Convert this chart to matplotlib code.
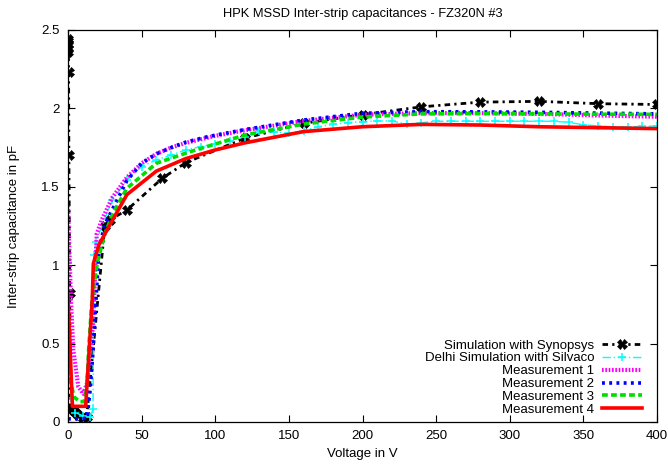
import matplotlib
matplotlib.use("Agg")
import matplotlib.pyplot as plt

plt.rcParams['font.family'] = ['Liberation Sans', 'DejaVu Sans']

title = "HPK MSSD Inter-strip capacitances - FZ320N #3"
xlabel = "Voltage in V"
ylabel = "Inter-strip capacitance in pF"
xticks = [0, 50, 100, 150, 200, 250, 300, 350, 400]
yticks = [0, 0.5, 1, 1.5, 2, 2.5]

# Simulation with Synopsys
syn_v = [0, 0.05, 0.1, 0.2, 0.3, 0.4, 0.6, 1.2, 1.6, 3.6, 4.8, 7, 10.4, 12.7,
         25, 28.5, 40, 64, 80, 120, 160, 200, 240, 280, 320, 360, 400]
syn_c = [2.44, 2.43, 2.41, 2.38, 2.36, 2.23, 1.70, 0.82, 0.09, 0.076, 0.066, 0.045, 0.024, 0.034,
         1.25, 1.29, 1.352, 1.554, 1.654, 1.81, 1.905, 1.96, 2.01, 2.04, 2.045, 2.03, 2.025]

# Delhi Simulation with Silvaco
del_v = [0, 2, 5, 10, 15, 17, 17.5, 19, 30, 40, 50, 60, 70, 80, 90, 100, 110, 120, 130, 140,
         150, 160, 170, 180, 190, 200, 210, 220, 230, 240, 250, 260, 270, 280, 290, 300,
         310, 320, 330, 340, 350, 360, 370, 380, 390, 400]
del_c = [1.02, 0.15, 0.06, 0.04, 0.03, 0.08, 1.065, 1.15, 1.415, 1.543, 1.628, 1.671, 1.703, 1.735,
         1.756, 1.775, 1.79, 1.82, 1.855, 1.85, 1.84, 1.858, 1.883, 1.898, 1.909, 1.915, 1.92,
         1.92, 1.90, 1.909, 1.918, 1.918, 1.918, 1.918, 1.918, 1.918, 1.918, 1.918, 1.918,
         1.911, 1.896, 1.888, 1.883, 1.883, 1.885, 1.888]

# Measurement 1
m1_v = [0, 2, 3.6, 7, 10.4, 13, 15, 17, 19.5, 23, 30, 40, 50, 60, 70, 80, 100, 120, 160,
        200, 240, 280, 320, 360, 400]
m1_c = [1.38, 0.78, 0.46, 0.225, 0.18, 0.25, 0.45, 0.61, 1.20, 1.29, 1.43, 1.56, 1.65, 1.71,
        1.75, 1.78, 1.825, 1.86, 1.92, 1.96, 1.97, 1.97, 1.965, 1.955, 1.947]

# Measurement 2
m2_v = [0, 5, 10, 13, 15, 17, 21, 25, 32, 40, 50, 60, 70, 80, 95, 120, 160, 200, 240,
        280, 320, 360, 400]
m2_c = [0.02, 0.02, 0.02, 0.03, 0.2, 0.45, 1.10, 1.26, 1.39, 1.54, 1.65, 1.71, 1.75, 1.785,
        1.82, 1.865, 1.926, 1.969, 1.979, 1.978, 1.975, 1.97, 1.965]

# Measurement 3
m3_v = [0, 1, 4, 8, 11, 13, 14, 16.3, 20, 25, 31, 40, 60, 83, 120, 160, 200, 240, 280,
        320, 360, 400]
m3_c = [0.45, 0.3, 0.16, 0.13, 0.13, 0.25, 0.46, 0.78, 1.02, 1.20, 1.34, 1.49, 1.65, 1.724,
        1.83, 1.90, 1.945, 1.965, 1.967, 1.965, 1.963, 1.962]

# Measurement 4
m4_v = [0, 3, 12, 16.5, 17.2, 21, 28, 40, 60, 80, 100, 120, 160, 200, 240, 280, 320, 360, 400]
m4_c = [0.80, 0.10, 0.10, 0.78, 1.01, 1.13, 1.25, 1.45, 1.60, 1.68, 1.735, 1.78, 1.852,
        1.883, 1.898, 1.894, 1.883, 1.877, 1.871]

fig = plt.figure(figsize=(6.68, 4.66), dpi=100)
ax = fig.add_axes([68/668, 1 - 422/466, (657-68)/668, (422-30)/466])

ax.plot(syn_v, syn_c, color='black', lw=2.0, ls=(0, (2, 1.5, 0.8, 1.5)),
        marker='X', ms=7, mew=0.5, label='Simulation with Synopsys')
ax.plot(del_v, del_c, color='cyan', lw=1, ls=(0, (6, 2, 1, 2)),
        marker='+', ms=6, mew=1.1, label='Delhi Simulation with Silvaco')
ax.plot(m1_v, m1_c, color='#ff00ff', lw=3, ls=(0, (0.4, 0.4)), label='Measurement 1')
ax.plot(m2_v, m2_c, color='blue', lw=2.6, ls=(0, (0.8, 1.2)), label='Measurement 2')
ax.plot(m3_v, m3_c, color='#00dd00', lw=2.6, ls=(0, (1.6, 0.9)), label='Measurement 3')
ax.plot(m4_v, m4_c, color='red', lw=2.6, ls='-', label='Measurement 4')

ax.set_xlim(0, 400)
ax.set_ylim(0, 2.5)
ax.set_xticks(xticks)
ax.set_yticks(yticks)
ax.set_xticklabels([str(t) for t in xticks])
ax.set_yticklabels([('%g' % t) for t in yticks])
ax.tick_params(direction='in', top=True, right=True, length=5, width=0.8,
               labelsize=9.5, pad=6)
for s in ax.spines.values():
    s.set_linewidth(0.9)

ax.set_title(title, fontsize=9.3, pad=9)
ax.set_xlabel(xlabel, fontsize=9.5, labelpad=4)
ax.set_ylabel(ylabel, fontsize=9.5, labelpad=15)

leg = ax.legend(loc='lower right', bbox_to_anchor=((642-68)/589, (422-416)/392),
                frameon=False, markerfirst=False, fontsize=9.5, handlelength=3.0,
                handletextpad=0.6, labelspacing=0.05, borderpad=0, borderaxespad=0)

fig.savefig('out.png', dpi=100)
